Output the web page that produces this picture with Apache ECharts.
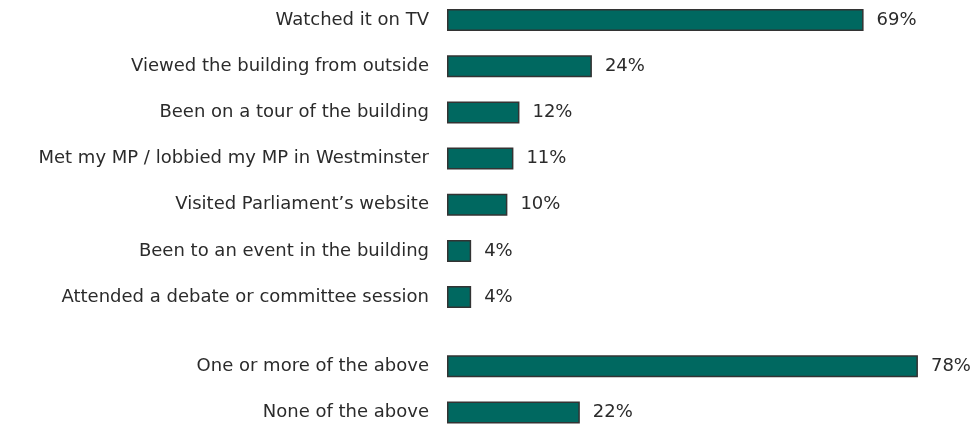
<!DOCTYPE html>
<html>
<head>
<meta charset="utf-8">
<script src="https://cdn.jsdelivr.net/npm/echarts@6/dist/echarts.min.js"></script>
<style>
  html, body { margin: 0; padding: 0; background: #ffffff; }
  #chart { width: 980px; height: 426px; }
</style>
</head>
<body>
<div id="chart"></div>
<script>
// Individual ways of engaging with Parliament
const activities = [
  'Watched it on TV',
  'Viewed the building from outside',
  'Been on a tour of the building',
  'Met my MP / lobbied my MP in Westminster',
  'Visited Parliament\u2019s website',
  'Been to an event in the building',
  'Attended a debate or committee session'
];
const activityShares = [69, 24, 12, 11, 10, 4, 4];

// Summary rows, shown as a separate group below
const summaries = ['One or more of the above', 'None of the above'];
const summaryShares = [78, 22];

// Each row occupies two half-height slots; the groups are separated by one extra slot.
const slotNames = [];
const slotValues = [];
function addRow(name, value) {
  slotNames.push(name);
  slotValues.push(value);
}
function addSpacer() {
  slotNames.push('');
  slotValues.push('-');
}
activities.forEach((name, i) => {
  if (i > 0) addSpacer();
  addRow(name, activityShares[i]);
});
addSpacer();
addSpacer();
summaries.forEach((name, i) => {
  if (i > 0) addSpacer();
  addRow(name, summaryShares[i]);
});

const textColor = '#2b2b2b';
const fontFamily = '"DejaVu Sans", "Noto Sans", sans-serif';

const chart = echarts.init(document.getElementById('chart'), null, { renderer: 'canvas' });
chart.setOption({
  animation: false,
  grid: { left: 447, right: 50, top: 8.5, bottom: 2, containLabel: false },
  xAxis: {
    type: 'value',
    min: 0,
    max: 80,
    show: false
  },
  yAxis: {
    type: 'category',
    inverse: true,
    data: slotNames,
    axisLine: { show: false },
    axisTick: { show: false },
    splitLine: { show: false },
    axisLabel: {
      interval: 0,
      margin: 18,
      color: textColor,
      fontFamily: fontFamily,
      fontSize: 18
    }
  },
  series: [{
    type: 'bar',
    data: slotValues,
    barWidth: 22,
    itemStyle: {
      color: '#006860',
      borderColor: '#333333',
      borderWidth: 1.5
    },
    label: {
      show: true,
      position: 'right',
      distance: 13,
      formatter: '{c}%',
      color: textColor,
      fontFamily: fontFamily,
      fontSize: 18
    }
  }]
});
</script>
</body>
</html>
